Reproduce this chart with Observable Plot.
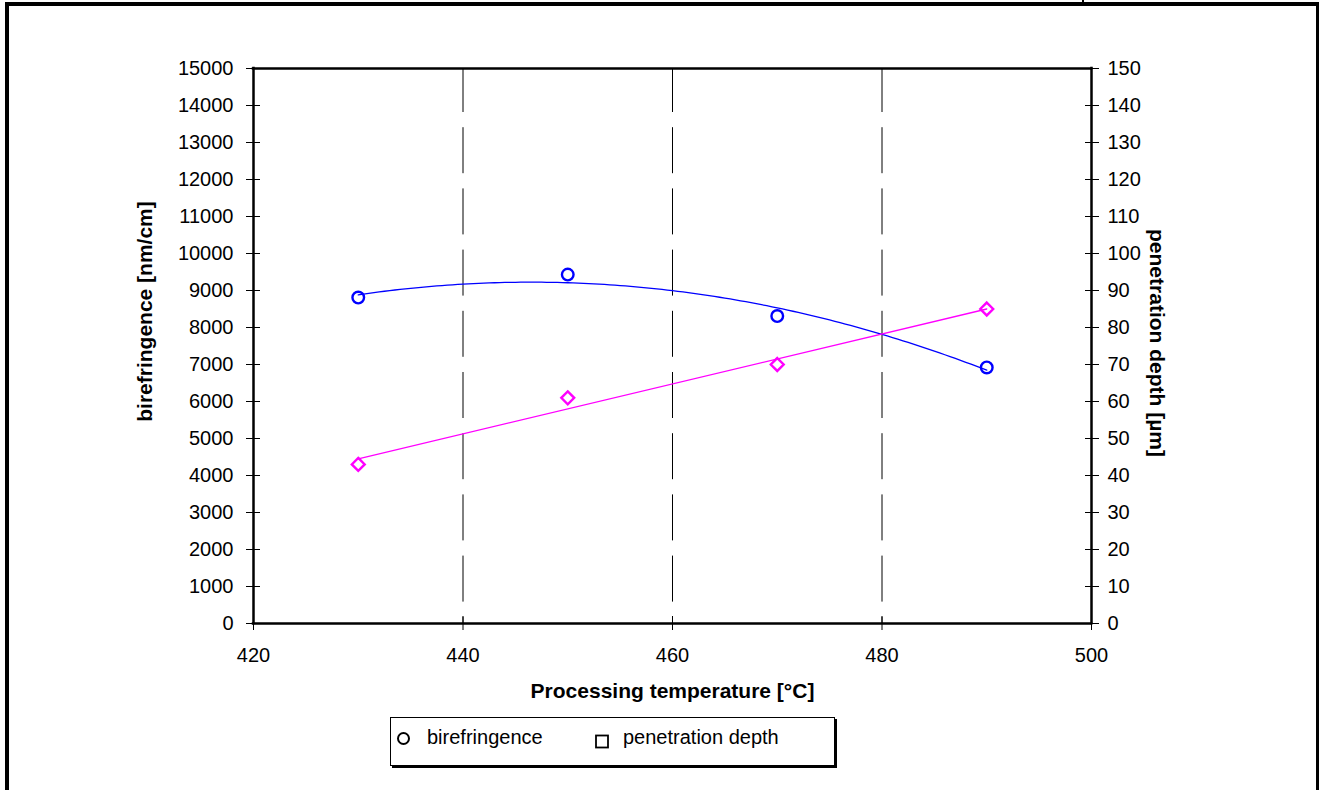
<!DOCTYPE html>
<html><head><meta charset="utf-8">
<script src="https://cdn.jsdelivr.net/npm/d3@7"></script>
<script src="https://cdn.jsdelivr.net/npm/@observablehq/plot@0.6"></script>
<style>
html,body{margin:0;padding:0;background:#fff;}
#wrap{position:relative;width:1321px;height:790px;overflow:hidden;font-family:"Liberation Sans",Arial,sans-serif;}
#wrap svg.plot{position:absolute;left:0;top:0;}
.bline{position:absolute;background:#000;}
#legend{position:absolute;left:390px;top:717px;width:443px;height:47px;border:1px solid #000;box-shadow:2px 2px 0 #000;background:#fff;}
#legend svg{position:absolute;left:0;top:0;}
</style></head>
<body><div id="wrap"></div>
<script>
// ---- data ----
const temperatures = [430, 450, 470, 490];
const birefringence = [8810, 9430, 8310, 6920];     // nm/cm (left axis)
const penetrationDepth = [43, 61, 70, 85];         // µm (right axis)
const xTicks = [420, 440, 460, 480, 500];
const leftTicks = [0,1000,2000,3000,4000,5000,6000,7000,8000,9000,10000,11000,12000,13000,14000,15000];
const rightTicks = [0,10,20,30,40,50,60,70,80,90,100,110,120,130,140,150];
const gridTemps = [440, 460, 480];
const xLabel = "Processing temperature [°C]";
const yLabelLeft = "birefringence [nm/cm]";
const yLabelRight = "penetration depth [µm]";
const seriesNames = ["birefringence", "penetration depth"];

const k = 15000 / 150; // right axis -> left axis scale factor
const biData = temperatures.map((t, i) => ({t, v: birefringence[i]}));
const pdData = temperatures.map((t, i) => ({t, v: penetrationDepth[i]}));

// 2nd-order polynomial trendline (least squares) of the birefringence data
function quadFit(xs, ys) {
  const m = d3.mean(xs);
  const T = xs.map(x => x - m);
  const S = p => d3.sum(T, t => t ** p);
  const Sy = p => d3.sum(T, (t, i) => t ** p * ys[i]);
  const A = [[S(4), S(3), S(2)], [S(3), S(2), S(1)], [S(2), S(1), xs.length]];
  const B = [Sy(2), Sy(1), Sy(0)];
  const det = M => M[0][0]*(M[1][1]*M[2][2]-M[1][2]*M[2][1]) - M[0][1]*(M[1][0]*M[2][2]-M[1][2]*M[2][0]) + M[0][2]*(M[1][0]*M[2][1]-M[1][1]*M[2][0]);
  const D = det(A);
  const col = j => A.map((r, i) => r.map((v, jj) => jj === j ? B[i] : v));
  const [c, b, a] = [0, 1, 2].map(j => det(col(j)) / D);
  return x => a + b * (x - m) + c * (x - m) ** 2;
}
const fq = quadFit(temperatures, birefringence);
const trend = d3.range(d3.min(temperatures), d3.max(temperatures) + 0.001, 0.5).map(t => ({t, v: fq(t)}));

const FONT = "Liberation Sans, Arial, sans-serif";

const chart = Plot.plot({
  width: 1321,
  height: 790,
  marginLeft: 253,
  marginRight: 230,
  marginTop: 68,
  marginBottom: 167,
  style: {fontFamily: FONT, fontSize: "20px", color: "#000", background: "transparent"},
  x: {domain: [420, 500]},
  y: {domain: [0, 15000]},
  marks: [
    // dashed vertical gridlines
    Plot.ruleX(gridTemps, {stroke: "#000", strokeWidth: 1, strokeDasharray: "46,15.2", strokeDashoffset: 2}),
    // trendlines
    Plot.line(trend, {x: "t", y: "v", stroke: "#0000ff", strokeWidth: 1.3}),
    Plot.linearRegressionY(pdData, {x: "t", y: d => d.v * k, stroke: "#ff00ff", strokeWidth: 1.3, ci: 0}),
    // markers
    Plot.dot(biData, {x: "t", y: "v", r: 5.8, stroke: "#0000ff", strokeWidth: 2.4, fill: "none"}),
    Plot.dot(pdData, {x: "t", y: d => d.v * k, symbol: "diamond2", r: 5.8, stroke: "#ff00ff", strokeWidth: 2.4, fill: "none"}),
    // crossing ticks
    Plot.axisY(leftTicks, {anchor: "left", tickSize: 14, dx: 7, fill: "none", stroke: "#000", strokeWidth: 1, label: null}),
    Plot.axisY(leftTicks, {anchor: "right", tickSize: 14, dx: -7, fill: "none", stroke: "#000", strokeWidth: 1, label: null}),
    Plot.axisX(xTicks, {anchor: "bottom", tickSize: 14, dy: -7, fill: "none", stroke: "#000", strokeWidth: 1, label: null}),
    // tick labels
    Plot.axisY(leftTicks, {anchor: "left", tickSize: 0, tickPadding: 20, fontSize: 20, fill: "#000", label: null, tickFormat: d => `${d}`}),
    Plot.text(rightTicks, {y: d => d * k, text: d => `${d}`, frameAnchor: "right", textAnchor: "start", dx: 16, fontSize: 20, fill: "#000"}),
    Plot.axisX(xTicks, {anchor: "bottom", tickSize: 0, tickPadding: 24, fontSize: 20, fill: "#000", label: null, tickFormat: d => `${d}`}),
    // plot-area frame / axis lines
    Plot.ruleX([420, 500], {stroke: "#000", strokeWidth: 2.5, strokeLinecap: "square"}),
    Plot.ruleY([0, 15000], {stroke: "#000", strokeWidth: 2.5, strokeLinecap: "square"}),
    // axis titles
    Plot.text([yLabelLeft], {text: d => d, frameAnchor: "left", textAnchor: "middle", rotate: -90, dx: -108, dy: -34.5, fontSize: 21, fontWeight: "bold", fill: "#000"}),
    Plot.text([yLabelRight], {text: d => d, frameAnchor: "right", textAnchor: "middle", rotate: 90, dx: 65, dy: -3, fontSize: 21, fontWeight: "bold", fill: "#000"}),
    Plot.text([xLabel], {text: d => d, frameAnchor: "bottom", lineAnchor: "top", dy: 60, fontSize: 21, fontWeight: "bold", fill: "#000"})
  ]
});
chart.classList.add("plot");
const wrap = document.getElementById("wrap");
wrap.appendChild(chart);

// outer frame lines
[[5, 2, 1314, 3.5], [5, 2, 3.5, 790], [1315.5, 2, 3.5, 790], [1082, 0, 1.5, 3]].forEach(([l, t, w, h]) => {
  const d = document.createElement("div");
  d.className = "bline";
  Object.assign(d.style, {left: l + "px", top: t + "px", width: w + "px", height: h + "px"});
  wrap.appendChild(d);
});

// legend
const leg = document.createElement("div");
leg.id = "legend";
leg.innerHTML = `<svg width="443" height="47" font-family="${FONT}" font-size="20">
  <circle cx="12.5" cy="20.5" r="5.5" fill="none" stroke="#000" stroke-width="2"/>
  <text x="36" y="26" fill="#000">${seriesNames[0]}</text>
  <rect x="205" y="17.5" width="12" height="12" fill="none" stroke="#000" stroke-width="1.8"/>
  <text x="232" y="26" fill="#000">${seriesNames[1]}</text>
</svg>`;
wrap.appendChild(leg);
</script>
</body></html>
